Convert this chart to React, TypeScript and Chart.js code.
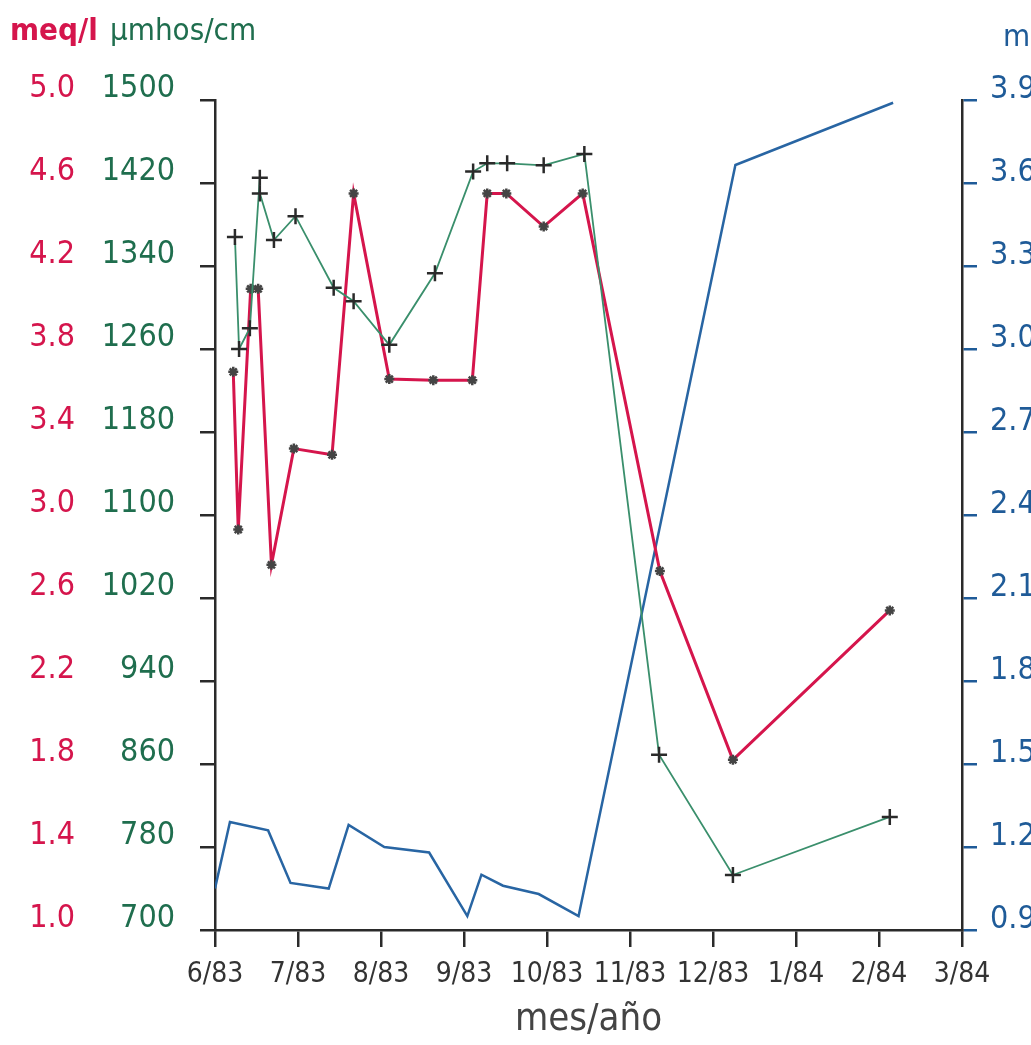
import React, { useEffect, useRef } from "react";
import { Chart, registerables } from "chart.js";

Chart.register(...registerables);

// x positions are in months since 6/83
const monthLabels = ["6/83", "7/83", "8/83", "9/83", "10/83", "11/83", "12/83", "1/84", "2/84", "3/84"];

const condX = [0.24, 0.29, 0.42, 0.54, 0.54, 0.71, 0.97, 1.43, 1.67, 2.1, 2.65, 3.11, 3.28, 3.52, 3.96, 4.45, 5.35, 6.24, 8.13];
const condY = [1368, 1260, 1280, 1425, 1410, 1365, 1388, 1319, 1306, 1264, 1333, 1431, 1439, 1439, 1437, 1448, 869, 753, 809];

const meqX = [0.22, 0.28, 0.43, 0.52, 0.68, 0.95, 1.41, 1.67, 2.1, 2.63, 3.1, 3.28, 3.51, 3.96, 4.43, 5.36, 6.24, 8.13];
const meqY = [3.69, 2.93, 4.09, 4.09, 2.76, 3.32, 3.29, 4.55, 3.655, 3.65, 3.65, 4.55, 4.55, 4.39, 4.55, 2.73, 1.82, 2.54];

const levelX = [0.0, 0.18, 0.64, 0.91, 1.37, 1.61, 2.04, 2.58, 3.04, 3.21, 3.47, 3.9, 4.38, 6.27, 8.17];
const levelY = [1.05, 1.29, 1.26, 1.07, 1.05, 1.28, 1.2, 1.18, 0.95, 1.1, 1.06, 1.03, 0.95, 3.665, 3.89];

const RED = "#d5154c";
const GREEN = "#1f6e4e";
const GREEN_LINE = "#3a8f6c";
const BLUE = "#1f5b98";
const BLUE_LINE = "#2865a3";
const DARK = "#2a2a2a";
const FONT = "'DejaVu Sans Condensed', 'DejaVu Sans', sans-serif";

const pts = (xs: number[], ys: number[]) => xs.map((x, i) => ({ x, y: ys[i] }));

const headerPlugin = {
  id: "headers",
  afterDraw(chart: any) {
    const ctx = chart.ctx;
    ctx.save();
    ctx.textBaseline = "middle";
    ctx.textAlign = "left";
    ctx.font = `bold 31px ${FONT}`;
    ctx.fillStyle = RED;
    ctx.fillText("meq/l", 10, 32);
    ctx.font = `31px ${FONT}`;
    ctx.fillStyle = GREEN;
    ctx.fillText("µmhos/cm", 110, 32);
    ctx.fillStyle = BLUE;
    ctx.fillText("m", 1003, 38);
    ctx.restore();
  },
};

export default function App() {
  const ref = useRef<HTMLCanvasElement | null>(null);
  useEffect(() => {
    if (!ref.current) return;
    const chart = new Chart(ref.current, {
      type: "line",
      data: {
        datasets: [
          {
            label: "conductividad",
            data: pts(condX, condY),
            xAxisID: "x",
            yAxisID: "mu",
            borderColor: GREEN_LINE,
            borderWidth: 1.8,
            pointStyle: "cross",
            pointRadius: 8,
            pointBorderColor: DARK,
            pointBorderWidth: 2.5,
            pointBackgroundColor: DARK,
            tension: 0,
          },
          {
            label: "meq/l",
            data: pts(meqX, meqY),
            xAxisID: "x",
            yAxisID: "meq",
            borderColor: RED,
            borderWidth: 3,
            pointStyle: "star",
            pointRadius: 5,
            pointBorderColor: "#444",
            pointBorderWidth: 2.5,
            pointBackgroundColor: "#444",
            tension: 0,
          },
          {
            label: "nivel",
            data: pts(levelX, levelY),
            xAxisID: "x",
            yAxisID: "m",
            borderColor: BLUE_LINE,
            borderWidth: 2.5,
            pointRadius: 0,
            tension: 0,
          },
        ],
      },
      options: {
        animation: false,
        responsive: false,
        maintainAspectRatio: false,
        layout: { padding: { left: 0, right: 0, top: 100, bottom: 0 } },
        plugins: { legend: { display: false }, tooltip: { enabled: false } },
        scales: {
          x: {
            type: "linear",
            position: "bottom",
            min: 0,
            max: 9,
            afterFit: (s: any) => {
              s.height = 115;
            },
            ticks: {
              stepSize: 1,
              autoSkip: false,
              maxRotation: 0,
              color: "#333",
              padding: 11,
              font: { family: FONT, size: 28 },
              callback: (v: any) => monthLabels[Math.round(Number(v))] ?? "",
            },
            grid: { display: true, drawOnChartArea: false, drawTicks: true, tickLength: 17, color: DARK, lineWidth: 2.5 },
            border: { display: true, color: DARK, width: 2.5 },
            title: {
              display: true,
              text: "mes/año",
              color: "#444",
              font: { family: FONT, size: 38 },
              padding: { top: 0, bottom: 2 },
            },
          },
          meq: {
            type: "linear",
            position: "left",
            weight: 1,
            min: 1.0,
            max: 5.0,
            afterFit: (s: any) => {
              s.width = 85;
            },
            ticks: {
              stepSize: 0.4,
              color: RED,
              padding: 10,
              labelOffset: -11,
              font: { family: FONT, size: 32 },
              callback: (v: any) => Number(v).toFixed(1),
            },
            grid: { display: false, drawTicks: false, drawOnChartArea: false },
            border: { display: false },
          },
          mu: {
            type: "linear",
            position: "left",
            weight: 0,
            min: 700,
            max: 1500,
            afterFit: (s: any) => {
              s.width = 130;
            },
            ticks: {
              stepSize: 80,
              color: GREEN,
              padding: 25,
              labelOffset: -11,
              font: { family: FONT, size: 32 },
              callback: (v: any) => String(Math.round(Number(v))),
            },
            grid: { display: true, drawOnChartArea: false, drawTicks: true, tickLength: 15, color: DARK, lineWidth: 2.5 },
            border: { display: true, color: DARK, width: 2.5 },
          },
          m: {
            type: "linear",
            position: "right",
            min: 0.9,
            max: 3.9,
            afterFit: (s: any) => {
              s.width = 118;
            },
            ticks: {
              stepSize: 0.3,
              color: BLUE,
              padding: 13,
              labelOffset: -10,
              font: { family: FONT, size: 32 },
              callback: (v: any) => Number(v).toFixed(1),
            },
            grid: { display: true, drawOnChartArea: false, drawTicks: true, tickLength: 15, color: BLUE, lineWidth: 2.5 },
            border: { display: true, color: DARK, width: 2.5 },
          },
        },
      },
      plugins: [headerPlugin],
    });
    return () => chart.destroy();
  }, []);

  return (
    <div style={{ position: "absolute", left: 0, top: 0, width: 1031, height: 1045, overflow: "hidden", background: "#fff" }}>
      <canvas ref={ref} width={1080} height={1045} style={{ width: 1080, height: 1045, display: "block" }} />
    </div>
  );
}
